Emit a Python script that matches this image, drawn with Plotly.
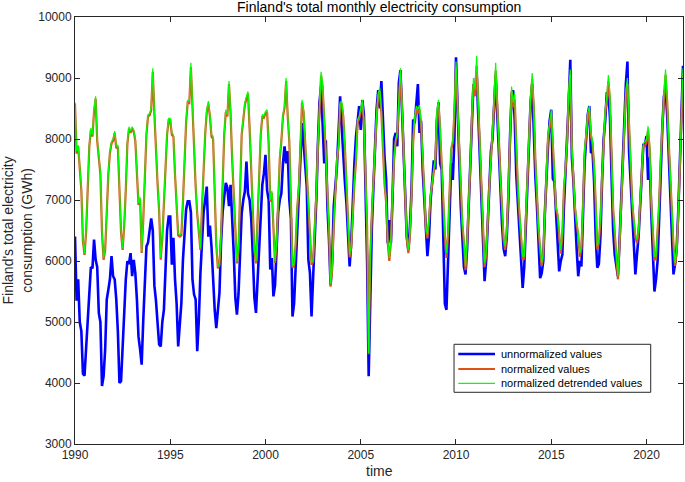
import plotly.graph_objects as go

start_year = 1990
months_per_year = 12

unnormalized = [
    6400, 5350, 5700, 5000, 4850, 4150, 4120, 4550, 4900, 5400, 5900, 5880,
    6350, 6020, 5900, 5150, 5000, 3950, 4110, 4550, 5370, 5530, 5700, 6080,
    5750, 5700, 5370, 4850, 4000, 4030, 4600, 5150, 5700, 6000, 5950, 6130,
    5750, 6020, 5800, 5370, 4760, 4550, 4300, 5030, 5580, 6240, 6300, 6550,
    6700, 6500, 5600, 5350, 4900, 4630, 4600, 5000, 5200, 5900, 6500, 6730,
    6730, 5940, 6380, 5700, 5310, 4600, 4930, 5310, 6020, 6500, 6850, 6980,
    6980, 6800, 5700, 5450, 5370, 4520, 5030, 5800, 6400, 6800, 7000, 7220,
    6400, 6580, 6230, 5700, 5200, 4900, 5150, 5480, 6300, 6800, 7050, 7280,
    7200, 6900, 7250, 6780, 6130, 5400, 5120, 5460, 6130, 6780, 7000, 7140,
    7630, 7100, 7000, 6700, 6100, 5400, 5150, 5700, 6350, 6900, 7250, 7440,
    7740, 7160, 7000, 5860, 6050, 5420, 5600, 6200, 6800, 7000, 7110, 7600,
    7880, 7600, 7800, 7000, 6700, 5090, 5300, 5900, 6500, 6950, 7660, 8260,
    7930, 7520, 7220, 6020, 5800, 5090, 5700, 6460, 7000, 7900, 8600, 8860,
    8200, 7600, 7980, 6900, 6350, 5610, 6000, 6900, 7220, 7550, 8100, 8700,
    8200, 7700, 7300, 6950, 6500, 5910, 6300, 7000, 7600, 8040, 8320, 8540,
    8150, 8640, 8400, 7400, 6000, 4110, 5400, 6550, 7220, 7800, 8500, 8800,
    8500, 8950, 8300, 7700, 7330, 6290, 6670, 6290, 7000, 8000, 8100, 7880,
    8920, 9130, 8480, 7770, 6900, 6400, 6180, 6570, 7170, 8320, 8260, 8600,
    8900, 8100, 8300, 7500, 7000, 6500, 6080, 6400, 7000, 7300, 7650, 7500,
    8300, 8600, 7600, 7500, 6500, 5300, 5200, 6000, 6800, 7600, 7330, 8000,
    9340, 8500, 7500, 6900, 6400, 5900, 5780, 6200, 6900, 7600, 8200, 8900,
    8800, 9100, 8400, 7700, 7000, 6300, 5670, 6000, 6700, 7300, 7800, 8000,
    8500, 9050, 8400, 7700, 7100, 6600, 6200, 6080, 6400, 7000, 8000, 8700,
    8800, 8300, 7400, 6900, 6500, 6000, 5560, 5900, 6600, 7400, 8000, 8600,
    8900, 8000, 7380, 6900, 6300, 5720, 5800, 6000, 6800, 7400, 7900, 8300,
    8480, 7350, 7300, 6800, 6400, 5830, 6000, 6100, 6900, 7400, 8000, 8600,
    9300, 7700, 7300, 6600, 6200, 5750, 6000, 5910, 6800, 7600, 8000, 8400,
    8540, 7770, 7800, 7300, 6400, 5890, 5950, 6400, 7300, 8000, 8300, 8750,
    8750, 8350, 7400, 6500, 6100, 5870, 5750, 6300, 7000, 7700, 8400, 8900,
    9270, 7800, 7300, 6700, 6300, 5780, 6100, 6400, 6900, 7500, 7900, 7900,
    8050, 7330, 7700, 6800, 6000, 5500, 5700, 6000, 6700, 7500, 8200, 8700,
    8840, 8400, 7800, 7000, 6400, 5780, 5950, 6200, 6800, 7500, 8300, 9200,
]

normalized = [
    8580, 7760, 7880, 7470, 7160, 6320, 6100, 6470, 7280, 7870, 8150, 8040,
    8450, 8660, 7970, 7660, 7420, 6470, 6020, 6170, 6870, 7420, 7770, 7930,
    7970, 8100, 7850, 7870, 7170, 6470, 6180, 6570, 7170, 7920, 8170, 8100,
    8170, 8120, 7970, 7370, 6920, 7020, 6130, 6670, 7520, 8070, 8370, 8390,
    8470, 9100, 8420, 7670, 7270, 6820, 6020, 6370, 6970, 7670, 8070, 8310,
    8310, 8070, 8040, 7420, 6770, 6420, 6400, 6420, 6970, 7770, 8270, 8600,
    8590, 9180, 8470, 7770, 7220, 6770, 6470, 6180, 6870, 7570, 8070, 8440,
    8580, 8370, 8040, 8000, 7170, 6270, 5880, 5930, 6420, 7350, 8070, 8440,
    8370, 8900, 8420, 7670, 7070, 6670, 5960, 6170, 7070, 8070, 8310, 8560,
    8660, 8740, 8170, 7420, 6760, 6170, 5960, 6670, 7470, 8070, 8370, 8350,
    8420, 8440, 7920, 6970, 7120, 6540, 5970, 6270, 7170, 7670, 7970, 8370,
    8510, 8950, 8370, 7960, 6970, 5890, 5920, 6270, 6870, 7190, 7870, 8600,
    8440, 7960, 7370, 6870, 6420, 5940, 5990, 6430, 7070, 7870, 8460, 9040,
    8850, 8370, 7770, 7120, 6520, 5580, 5870, 6570, 7070, 7630, 7870, 8560,
    8580, 8370, 7870, 7190, 6670, 6060, 6210, 6870, 7270, 7630, 8280, 8330,
    8450, 8590, 8260, 7260, 6560, 4470, 6060, 6760, 7350, 7960, 8360, 8700,
    8780, 8430, 7810, 7260, 6960, 6310, 6000, 6310, 7060, 7660, 7960, 8060,
    8580, 9080, 8530, 7790, 6960, 6360, 6130, 6420, 7070, 7940, 8320, 8490,
    8420, 8480, 8250, 7550, 7160, 6530, 6370, 6660, 7060, 7260, 7500, 7650,
    8400, 8560, 8140, 7500, 6860, 6420, 6050, 6420, 7160, 7830, 7940, 8430,
    9170, 8530, 7780, 7260, 6610, 6300, 5850, 6310, 6860, 7550, 8330, 8900,
    8700, 9200, 8580, 7950, 7160, 6560, 5900, 6090, 6710, 7260, 7650, 8040,
    8560, 9120, 8520, 7850, 7260, 6860, 6350, 6180, 6460, 7060, 7940, 8780,
    8520, 8650, 7850, 7160, 6760, 6410, 6020, 6040, 6690, 7450, 8040, 8620,
    8980, 8520, 7650, 6960, 6520, 6200, 5920, 6110, 6860, 7500, 8040, 8200,
    8400, 7930, 7350, 6860, 6750, 6420, 6120, 6420, 7170, 7500, 7940, 8720,
    9050, 7840, 7350, 6860, 6610, 6420, 6070, 6200, 6860, 7770, 8040, 8360,
    8460, 8040, 7930, 7550, 6960, 6190, 6300, 6660, 7350, 8040, 8430, 8620,
    8950, 8620, 7740, 6860, 6460, 6080, 5700, 6250, 6860, 7550, 8230, 8720,
    8900, 8330, 7740, 6960, 6660, 6400, 6290, 6460, 6960, 7450, 7870, 7890,
    7940, 8140, 7840, 6960, 6420, 6020, 6030, 6420, 6960, 7690, 8230, 8670,
    9050, 8630, 7940, 7350, 6660, 6250, 5920, 6140, 6750, 7500, 8230, 9080,
]

detrended = [
    8600, 7800, 7900, 7500, 7200, 6350, 6130, 6500, 7300, 7900, 8180, 8070,
    8480, 8700, 8000, 7700, 7450, 6500, 6050, 6200, 6900, 7450, 7800, 7960,
    8000, 8130, 7880, 7900, 7200, 6500, 6210, 6600, 7200, 7950, 8200, 8130,
    8200, 8150, 8000, 7400, 6950, 7050, 6160, 6700, 7550, 8100, 8400, 8420,
    8500, 9160, 8450, 7700, 7300, 6850, 6050, 6400, 7000, 7700, 8100, 8340,
    8340, 8100, 8070, 7450, 6800, 6450, 6430, 6450, 7000, 7800, 8300, 8640,
    8620, 9250, 8500, 7800, 7250, 6800, 6500, 6210, 6900, 7600, 8100, 8480,
    8620, 8400, 8070, 8050, 7200, 6300, 5910, 5960, 6450, 7380, 8100, 8480,
    8400, 8950, 8450, 7700, 7100, 6700, 5990, 6200, 7100, 8100, 8340, 8600,
    8700, 8780, 8200, 7450, 6790, 6200, 5990, 6700, 7500, 8100, 8400, 8380,
    8450, 8480, 7950, 7000, 7150, 6570, 6000, 6300, 7200, 7700, 8000, 8400,
    8550, 9000, 8400, 7990, 7000, 5920, 5950, 6300, 6900, 7220, 7900, 8640,
    8480, 7990, 7400, 6900, 6450, 5970, 6020, 6460, 7100, 7900, 8500, 9100,
    8900, 8400, 7800, 7150, 6550, 5620, 5900, 6600, 7100, 7660, 7900, 8600,
    8620, 8400, 7900, 7220, 6700, 6100, 6250, 6900, 7300, 7660, 8320, 8370,
    8500, 8640, 8300, 7300, 6600, 4490, 6100, 6800, 7390, 8000, 8400, 8750,
    8840, 8480, 7850, 7300, 7000, 6350, 6050, 6350, 7100, 7700, 8000, 8100,
    8640, 9160, 8590, 7830, 7000, 6400, 6180, 6460, 7110, 7990, 8370, 8540,
    8480, 8560, 8300, 7600, 7200, 6570, 6430, 6700, 7100, 7300, 7550, 7700,
    8480, 8640, 8200, 7550, 6900, 6460, 6130, 6460, 7200, 7880, 7990, 8500,
    9270, 8600, 7830, 7300, 6650, 6350, 5910, 6350, 6900, 7600, 8400, 9000,
    8810, 9360, 8650, 8000, 7200, 6600, 5970, 6130, 6750, 7300, 7700, 8100,
    8640, 9250, 8590, 7900, 7300, 6900, 6400, 6240, 6500, 7100, 8000, 8860,
    8600, 8750, 7900, 7200, 6800, 6450, 6080, 6080, 6730, 7500, 8100, 8700,
    9080, 8590, 7700, 7000, 6560, 6240, 5970, 6150, 6900, 7550, 8100, 8260,
    8480, 7990, 7400, 6900, 6790, 6460, 6180, 6460, 7220, 7550, 8000, 8800,
    9140, 7900, 7400, 6900, 6650, 6460, 6130, 6240, 6900, 7830, 8100, 8430,
    8540, 8100, 7990, 7600, 7000, 6240, 6350, 6700, 7400, 8100, 8500, 8700,
    9050, 8700, 7800, 6900, 6500, 6130, 5750, 6300, 6900, 7600, 8300, 8800,
    9000, 8400, 7800, 7000, 6700, 6450, 6350, 6500, 7000, 7500, 7930, 7950,
    8000, 8210, 7900, 7000, 6460, 6080, 6080, 6460, 7000, 7750, 8300, 8750,
    9140, 8700, 8000, 7400, 6700, 6300, 5970, 6180, 6790, 7550, 8300, 9160,
]

series_names = ["unnormalized values", "normalized values", "normalized detrended values"]
series_colors = ["#0000FF", "#D95319", "#00FF00"]
series_widths = [2.6, 2.2, 1.2]

x_ticks = [1990, 1995, 2000, 2005, 2010, 2015, 2020]
y_ticks = [3000, 4000, 5000, 6000, 7000, 8000, 9000, 10000]

n = len(detrended)
time = [start_year + i / months_per_year for i in range(n)]

AX = "#262626"
FONT = "Liberation Sans, Arial, Helvetica, sans-serif"

fig = go.Figure()
for vals, name, col, w in zip([unnormalized, normalized, detrended],
                              series_names, series_colors, series_widths):
    fig.add_trace(go.Scatter(x=time, y=vals, mode="lines", name=name,
                             line=dict(color=col, width=w), showlegend=False))

axis_common = dict(showline=True, linecolor=AX, linewidth=1, mirror="ticks",
                   ticks="inside", ticklen=5, tickcolor=AX, tickwidth=1,
                   showgrid=False, zeroline=False,
                   tickfont=dict(family=FONT, size=12, color=AX))

fig.update_xaxes(range=[time[0], time[-1]], tickvals=x_ticks,
                 ticktext=[str(v) for v in x_ticks], **axis_common)
fig.update_yaxes(range=[3000, 10000], tickvals=y_ticks,
                 ticktext=[str(v) for v in y_ticks], **axis_common)

# Legend (drawn as a MATLAB-style compact box)
shapes = [dict(type="rect", xref="paper", yref="paper",
               x0=0.6234, x1=0.9469, y0=0.1211, y1=0.2335,
               line=dict(color=AX, width=1), fillcolor="white", layer="above")]
annotations = []
row_y = [0.2108, 0.1756, 0.1422]
for name, col, w, yy in zip(series_names, series_colors, series_widths, row_y):
    shapes.append(dict(type="line", xref="paper", yref="paper",
                       x0=0.6304, x1=0.6908, y0=yy, y1=yy,
                       line=dict(color=col, width=w), layer="above"))
    annotations.append(dict(text=name, xref="paper", yref="paper", x=0.6979, y=yy,
                            xanchor="left", yanchor="middle", showarrow=False,
                            font=dict(family=FONT, size=11, color="#000000")))

annotations += [
    dict(text="Finland's total monthly electricity consumption", xref="paper", yref="paper",
         x=0.5, y=1.0245, xanchor="center", yanchor="middle", showarrow=False,
         font=dict(family=FONT, size=14, color="#000000")),
    dict(text="time", xref="paper", yref="paper", x=0.5, y=-0.063,
         xanchor="center", yanchor="middle", showarrow=False,
         font=dict(family=FONT, size=14, color=AX)),
    dict(text="Finland's total electricity<br>consumption (GWh)", xref="paper", yref="paper",
         x=-0.0954, y=0.5, xanchor="center", yanchor="middle", showarrow=False,
         textangle=-90, font=dict(family=FONT, size=14, color=AX)),
]

fig.update_layout(
    width=685, height=482,
    margin=dict(l=75, r=2, t=17, b=38),
    paper_bgcolor="white", plot_bgcolor="white",
    showlegend=False,
    shapes=shapes,
    annotations=annotations,
)

fig.write_html("out.html", config={"displayModeBar": False},
               post_script="document.body.style.margin='0';document.body.style.padding='0';")
